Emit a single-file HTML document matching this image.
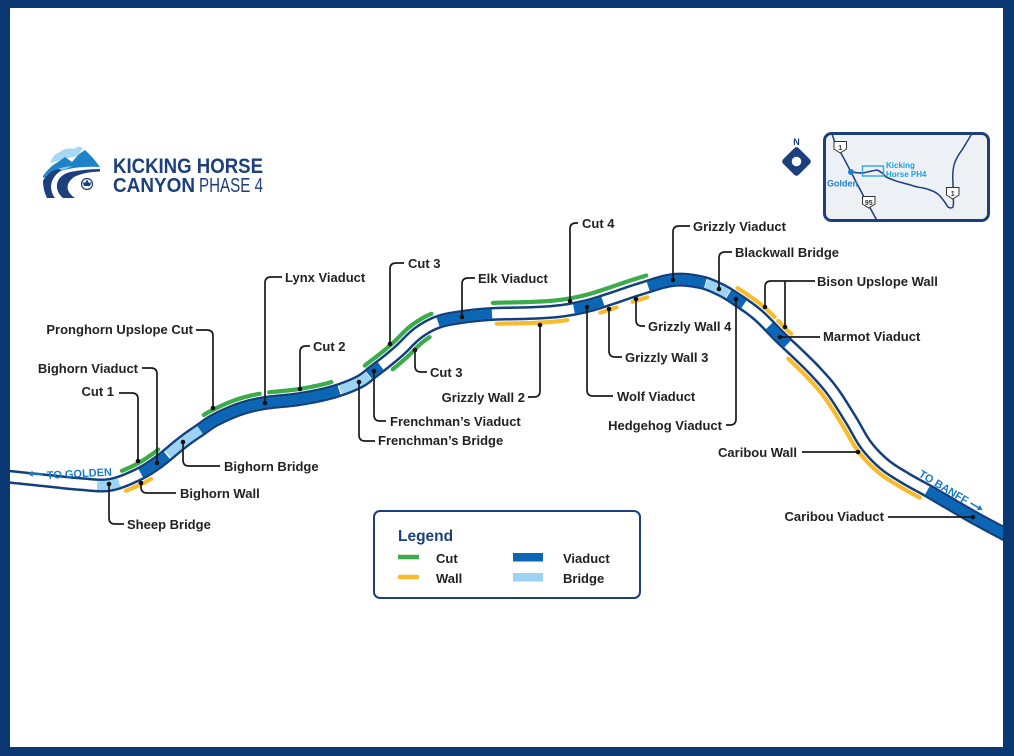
<!DOCTYPE html>
<html>
<head>
<meta charset="utf-8">
<style>
html,body{margin:0;padding:0;background:#fff;}
svg{display:block;}
text{font-family:"Liberation Sans",Arial,sans-serif;}
.lb{font-size:13px;font-weight:bold;fill:#222;}
</style>
</head>
<body>
<svg id="svg" width="1014" height="756" viewBox="0 0 1014 756" xmlns="http://www.w3.org/2000/svg">
<rect x="0" y="0" width="1014" height="756" fill="#ffffff"/>

<!-- Logo -->
<g>
  <path d="M50,163 Q53,154 60,152 Q66,147 74,149 Q78,145 83,148 L77,156 L68,158 L58,161 Z" fill="#a6d8f3"/>
  <path d="M43,176 Q50,166 58,162 L65,157 L72,162 L79,154 L85,150 L93,158 L100,167 Q80,166 64,170 Q52,173 43,178 Z" fill="#1e82c8"/>
  <path d="M46,175 Q58,167 72,166 L66,169 Q55,171 46,178 Z" fill="#8fcdef"/>
  <path d="M43,181 Q47,172 58,169 L62,170 Q52,176 51,186 Q51,193 55,198 L47,198 Q43,190 43,181 Z" fill="#1d3f7c"/>
  <path d="M57,184 Q59,175 70,172 Q85,169 100,169 L100,171.5 Q84,172 74,177 Q66,183 68,190 Q70,195 75,198 L63,198 Q56,192 57,184 Z" fill="#1d3f7c"/>
  <circle cx="87" cy="184" r="5.5" fill="#fff" stroke="#1d3f7c" stroke-width="1.2"/>
  <path d="M87,179.5 L89,183 L91.5,182 L90,186 L84,186 L82.5,182 L85,183 Z" fill="#1d3f7c"/>
  <text x="113" y="173" font-size="21" font-weight="bold" fill="#1d3f7c" textLength="150" lengthAdjust="spacingAndGlyphs">KICKING HORSE</text>
  <text x="113" y="192" font-size="20" font-weight="bold" fill="#1d3f7c" textLength="82" lengthAdjust="spacingAndGlyphs">CANYON</text>
  <text x="199" y="192" font-size="20" fill="#1d3f7c" textLength="64" lengthAdjust="spacingAndGlyphs">PHASE 4</text>
</g>

<!-- North + inset map -->
<g>
  <text x="796.5" y="145" font-size="9" font-weight="bold" fill="#1d3f7c" text-anchor="middle">N</text>
  <rect x="785.5" y="150.5" width="22" height="22" rx="3" fill="#1d3f7c" transform="rotate(45 796.5 161.5)"/>
  <circle cx="796.5" cy="161.5" r="4.8" fill="#fff"/>
  <clipPath id="mapclip"><rect x="824.5" y="133.5" width="164" height="87" rx="7"/></clipPath>
  <rect x="824.5" y="133.5" width="164" height="87" rx="7" fill="#edf1f6"/>
  <g clip-path="url(#mapclip)" fill="none" stroke="#1d3f7c" stroke-width="1.5" stroke-linejoin="round">
    <path d="M831,130 Q834,142 838,148 Q845,160 851,172 Q857,184 863,195 Q870,208 879,224"/>
    <path d="M851,172 Q858,173 863,173 Q871,171 877,170 Q882,172 886,177 Q895,181 903,183 Q911,185 917,187 Q925,188 930,190 Q936,192 940,196 Q945,202 948,207 Q951,209 953,207 Q954,202 953,198 L953,183 Q952,170 955,162 Q958,155 962,150 Q967,142 974,130"/>
  </g>
  <g fill="#fff" stroke="#333" stroke-width="1">
    <path d="M834,141.5 H846.5 V149 L840.25,153 L834,149 Z"/>
    <path d="M946.5,187.5 H959 V195 L952.75,199 L946.5,195 Z"/>
    <path d="M862.5,196.5 H875 V204 L868.75,208 L862.5,204 Z"/>
  </g>
  <g font-size="7" font-weight="bold" fill="#333" text-anchor="middle">
    <text x="840.25" y="150">1</text>
    <text x="952.75" y="196">1</text>
    <text x="868.75" y="205">95</text>
  </g>
  <rect x="862.5" y="166" width="21" height="10" fill="none" stroke="#2aaae2" stroke-width="1.4"/>
  <circle cx="851" cy="172" r="3" fill="#1f7fc8"/>
  <text x="827" y="186.5" font-size="9" font-weight="bold" fill="#1f7fc8">Golden</text>
  <text x="886" y="168" font-size="8" font-weight="bold" fill="#1ea0dd">Kicking</text>
  <text x="886" y="177" font-size="8" font-weight="bold" fill="#1ea0dd">Horse PH4</text>
  <rect x="824.5" y="133.5" width="164" height="87" rx="7" fill="none" stroke="#1d3f7c" stroke-width="3"/>
</g>

<!-- Road layers (filled by script) -->
<g id="roadLayer"></g>
<g id="featLayer"></g>

<!-- Direction labels -->
<g transform="translate(47,479) rotate(-3)">
  <text x="0" y="0" font-size="11" font-weight="bold" fill="#1a7bc9">TO GOLDEN</text>
  <path d="M-4,-5 L-18,-6" stroke="#1a7bc9" stroke-width="1.6" fill="none"/>
  <path d="M-19,-6 L-14,-9 L-14,-3 Z" fill="#1a7bc9"/>
</g>
<g transform="translate(918,476) rotate(31)">
  <text x="0" y="0" font-size="11" font-weight="bold" fill="#1a7bc9">TO BANFF</text>
  <path d="M59,-4 L71,-4" stroke="#1a7bc9" stroke-width="1.6" fill="none"/>
  <path d="M73,-4 L68,-7 L68,-1 Z" fill="#1a7bc9"/>
</g>

<!-- Leaders -->
<g fill="none" stroke="#1b1b1b" stroke-width="1.7" stroke-linejoin="round">
  <path d="M196,330 H207 Q213,330 213,336 V408"/>
  <path d="M142,368 H151 Q157,368 157,374 V463"/>
  <path d="M119,393 H132 Q138,393 138,399 V461"/>
  <path d="M109,484 V518 Q109,524 115,524 H124"/>
  <path d="M141,483 V487 Q141,493 147,493 H176"/>
  <path d="M183,442 V460 Q183,466 189,466 H220"/>
  <path d="M282,277 H271 Q265,277 265,283 V403"/>
  <path d="M310,346 H306 Q300,346 300,352 V389"/>
  <path d="M404,263 H396 Q390,263 390,269 V344"/>
  <path d="M415,350 V366 Q415,372 421,372 H427"/>
  <path d="M475,278 H468 Q462,278 462,284 V317"/>
  <path d="M374,371 V415 Q374,421 380,421 H386"/>
  <path d="M359,382 V435 Q359,441 365,441 H375"/>
  <path d="M528,397 H534 Q540,397 540,391 V325"/>
  <path d="M578,223 H576 Q570,223 570,229 V301"/>
  <path d="M690,226 H679 Q673,226 673,232 V280"/>
  <path d="M732,252 H725 Q719,252 719,258 V289"/>
  <path d="M815,281 H771 Q765,281 765,287 V307"/>
  <path d="M785,281 V327"/>
  <path d="M780,337 H820"/>
  <path d="M636,299 V320 Q636,326 642,326 H645"/>
  <path d="M609,309 V351 Q609,357 615,357 H622"/>
  <path d="M587,307 V390 Q587,396 593,396 H613"/>
  <path d="M736,299 V419 Q736,425 730,425 H726"/>
  <path d="M802,452 H858"/>
  <path d="M888,517 H973"/>
</g>
<g fill="#111">
  <circle cx="213" cy="408" r="2.3"/>
  <circle cx="157" cy="463" r="2.3"/>
  <circle cx="138" cy="461" r="2.3"/>
  <circle cx="109" cy="484" r="2.3"/>
  <circle cx="141" cy="483" r="2.3"/>
  <circle cx="183" cy="442" r="2.3"/>
  <circle cx="265" cy="403" r="2.3"/>
  <circle cx="300" cy="389" r="2.3"/>
  <circle cx="390" cy="344" r="2.3"/>
  <circle cx="415" cy="350" r="2.3"/>
  <circle cx="462" cy="317" r="2.3"/>
  <circle cx="374" cy="371" r="2.3"/>
  <circle cx="359" cy="382" r="2.3"/>
  <circle cx="540" cy="325" r="2.3"/>
  <circle cx="570" cy="301" r="2.3"/>
  <circle cx="673" cy="280" r="2.3"/>
  <circle cx="719" cy="289" r="2.3"/>
  <circle cx="765" cy="307" r="2.3"/>
  <circle cx="785" cy="327" r="2.3"/>
  <circle cx="780" cy="337" r="2.3"/>
  <circle cx="636" cy="299" r="2.3"/>
  <circle cx="609" cy="309" r="2.3"/>
  <circle cx="587" cy="307" r="2.3"/>
  <circle cx="736" cy="299" r="2.3"/>
  <circle cx="858" cy="452" r="2.3"/>
  <circle cx="973" cy="517" r="2.3"/>
</g>

<!-- Labels -->
<g class="lb">
  <text class="lb" x="193" y="334" text-anchor="end">Pronghorn Upslope Cut</text>
  <text class="lb" x="138" y="373" text-anchor="end">Bighorn Viaduct</text>
  <text class="lb" x="114" y="396" text-anchor="end">Cut 1</text>
  <text class="lb" x="127" y="529">Sheep Bridge</text>
  <text class="lb" x="180" y="498">Bighorn Wall</text>
  <text class="lb" x="224" y="471">Bighorn Bridge</text>
  <text class="lb" x="285" y="282">Lynx Viaduct</text>
  <text class="lb" x="313" y="351">Cut 2</text>
  <text class="lb" x="408" y="268">Cut 3</text>
  <text class="lb" x="430" y="377">Cut 3</text>
  <text class="lb" x="478" y="283">Elk Viaduct</text>
  <text class="lb" x="390" y="426">Frenchman’s Viaduct</text>
  <text class="lb" x="378" y="445">Frenchman’s Bridge</text>
  <text class="lb" x="525" y="402" text-anchor="end">Grizzly Wall 2</text>
  <text class="lb" x="582" y="228">Cut 4</text>
  <text class="lb" x="693" y="231">Grizzly Viaduct</text>
  <text class="lb" x="735" y="257">Blackwall Bridge</text>
  <text class="lb" x="817" y="286">Bison Upslope Wall</text>
  <text class="lb" x="823" y="341">Marmot Viaduct</text>
  <text class="lb" x="648" y="331">Grizzly Wall 4</text>
  <text class="lb" x="625" y="362">Grizzly Wall 3</text>
  <text class="lb" x="617" y="401">Wolf Viaduct</text>
  <text class="lb" x="722" y="430" text-anchor="end">Hedgehog Viaduct</text>
  <text class="lb" x="797" y="457" text-anchor="end">Caribou Wall</text>
  <text class="lb" x="884" y="521" text-anchor="end">Caribou Viaduct</text>
</g>

<!-- Legend -->
<g>
  <rect x="374" y="511" width="266" height="87" rx="6" fill="#fff" stroke="#1d3f7c" stroke-width="2"/>
  <text x="398" y="541" font-size="15.5" font-weight="bold" fill="#1d3f7c">Legend</text>
  <line x1="398" y1="557" x2="419" y2="557" stroke="#3cab4b" stroke-width="4.5"/>
  <line x1="400" y1="577" x2="417" y2="577" stroke="#f9bb2b" stroke-width="4.5" stroke-linecap="round"/>
  <rect x="513" y="553" width="30" height="8.5" fill="#0b67b5"/>
  <rect x="513" y="573" width="30" height="8.5" fill="#9dd3f2"/>
  <text class="lb" x="436" y="563">Cut</text>
  <text class="lb" x="436" y="583">Wall</text>
  <text class="lb" x="563" y="563">Viaduct</text>
  <text class="lb" x="563" y="583">Bridge</text>
</g>

<!-- Frame -->
<g fill="#0b3773">
  <rect x="0" y="0" width="1014" height="8"/>
  <rect x="0" y="747" width="1014" height="9"/>
  <rect x="0" y="0" width="10" height="756"/>
  <rect x="1003" y="0" width="11" height="756"/>
</g>
</svg>

<script>
(function(){
try{
var NS='http://www.w3.org/2000/svg';
var P=[[2,476],[50,481],[80,484],[109,485],[135,476],[157,463],[183,442],[200,430],[215,420],[240,409],[265,403],[300,399],[333,392],[359,382],[374,371],[387,361],[400,350],[418,333],[438,322],[462,317],[492,314],[530,313],[560,311],[587,306],[610,299],[640,289],[673,280],[700,282],[719,289],[736,299],[758,315],[780,337],[799,355],[816,372],[833,392],[851,420],[866,445],[884,464],[905,478],[930,492],[973,517],[1014,539]];
var S=[];var n=24;
for(var i=0;i<P.length-1;i++){
  var p0=P[Math.max(i-1,0)],p1=P[i],p2=P[i+1],p3=P[Math.min(i+2,P.length-1)];
  for(var k=0;k<n;k++){
    var t=k/n,t2=t*t,t3=t2*t,q=[];
    for(var c=0;c<2;c++){
      q[c]=0.5*((2*p1[c])+(-p0[c]+p2[c])*t+(2*p0[c]-5*p1[c]+4*p2[c]-p3[c])*t2+(-p0[c]+3*p1[c]-3*p2[c]+p3[c])*t3);
    }
    S.push(q);
  }
}
S.push(P[P.length-1]);
function nrm(i){
  var a=S[Math.max(i-1,0)],b=S[Math.min(i+1,S.length-1)];
  var dx=b[0]-a[0],dy=b[1]-a[1],l=Math.sqrt(dx*dx+dy*dy)||1;
  return [dy/l,-dx/l];
}
function seg(x1,x2,off){
  var d='';
  for(var i=0;i<S.length;i++){
    var p=S[i];
    if(p[0]>=x1&&p[0]<=x2){
      var nn=nrm(i);
      var x=p[0]+nn[0]*off,y=p[1]+nn[1]*off;
      d+=(d?'L':'M')+x.toFixed(2)+','+y.toFixed(2);
    }
  }
  return d;
}
function add(par,d,stroke,w,cap){
  if(!d)return;
  var e=document.createElementNS(NS,'path');
  e.setAttribute('d',d);e.setAttribute('fill','none');
  e.setAttribute('stroke',stroke);e.setAttribute('stroke-width',w);
  e.setAttribute('stroke-linecap',cap||'butt');e.setAttribute('stroke-linejoin','round');
  par.appendChild(e);
}
var road=document.getElementById('roadLayer');
var feat=document.getElementById('featLayer');
var full=seg(-10,2000,0);
add(road,full,'#12407e',14);
add(road,full,'#ffffff',9);
var via=[[140,168],[200,340],[369,381],[438,493],[573,603],[647,706],[728,744],[769,788],[927,1020]];
var bri=[[97,120],[168,200],[340,369],[706,728]];
via.forEach(function(r){add(road,seg(r[0],r[1],0),'#0b67b5',9.2);});
bri.forEach(function(r){add(road,seg(r[0],r[1],0),'#9dd3f2',9.2);});
var cuts=[[125,165,10],[209,262,10],[269,335,10],[371,436,10],[386,425,-10],[493,650,11]];
var walls=[[122,146,-10],[495,566,-10],[597,614,-10],[629,645,-10],[732,768,10],[771,785,10],[795,925,-10]];
cuts.forEach(function(r){add(feat,seg(r[0],r[1],r[2]),'#3cab4b',4.2,'round');});
walls.forEach(function(r){add(feat,seg(r[0],r[1],r[2]),'#f9bb2b',4.2,'round');});
}catch(e){}
})();
</script>
</body>
</html>
